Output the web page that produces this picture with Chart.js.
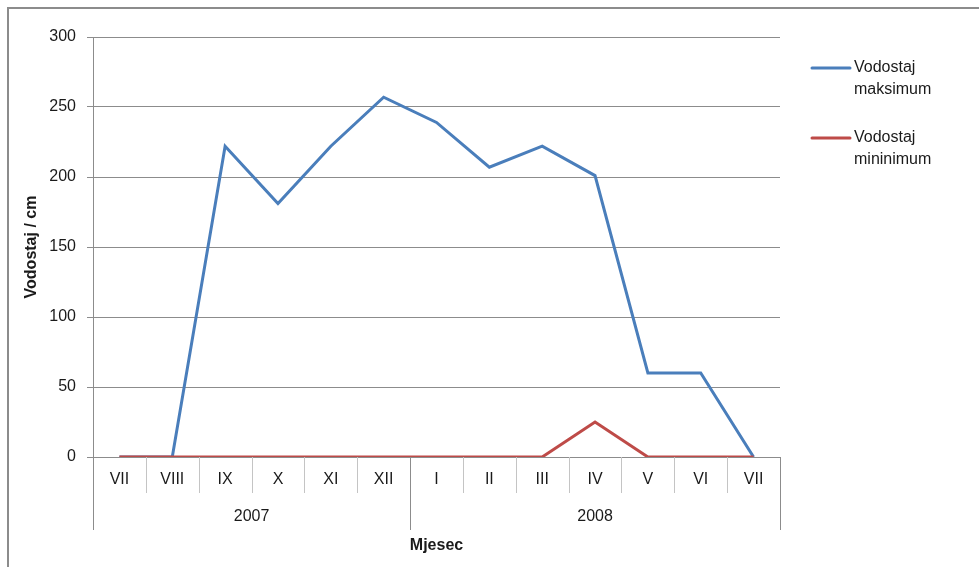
<!DOCTYPE html>
<html>
<head>
<meta charset="utf-8">
<script src="https://cdn.jsdelivr.net/npm/chart.js@4.4.1/dist/chart.umd.min.js"></script>
<style>
  html, body { margin: 0; padding: 0; background: #fff; }
  #wrap { width: 979px; height: 567px; position: relative; }
</style>
</head>
<body>
<div id="wrap"><canvas id="vodostajChart"></canvas></div>
<script>
const MONTHS = ["VII", "VIII", "IX", "X", "XI", "XII", "I", "II", "III", "IV", "V", "VI", "VII"];
const YEARS = ["2007", "2008"];
const YEAR_SPANS = [6, 7];
const MAX_LEVEL = [0, 0, 222, 181, 222, 257, 239, 207, 222, 201, 60, 60, 0];
const MIN_LEVEL = [0, 0, 0, 0, 0, 0, 0, 0, 0, 25, 0, 0, 0];
const Y_TICKS = [0, 50, 100, 150, 200, 250, 300];

const FONT = "'Liberation Sans', Arial, sans-serif";
const TEXT_COLOR = "#1a1a1a";

// draws the outer frame, the two level category axis and the legend
const excelBits = {
  id: "excelBits",
  beforeDraw(chart) {
    const ctx = chart.ctx;
    ctx.save();
    ctx.strokeStyle = "#8c8c8c";
    ctx.lineWidth = 2;
    ctx.strokeRect(8, 8, 1100, 700);
    ctx.restore();
  },
  afterDraw(chart) {
    const ctx = chart.ctx;
    const x = chart.scales.x;
    const area = chart.chartArea;
    const half = (x.getPixelForValue(1) - x.getPixelForValue(0)) / 2;

    ctx.save();
    // month separators
    ctx.strokeStyle = "#c4c4c4";
    ctx.lineWidth = 1;
    for (let i = 1; i < MONTHS.length; i++) {
      const px = Math.round(x.getPixelForValue(i) - half) + 0.5;
      ctx.beginPath();
      ctx.moveTo(px, area.bottom);
      ctx.lineTo(px, area.bottom + 36);
      ctx.stroke();
    }
    // year separators + year labels
    ctx.strokeStyle = "#8c8c8c";
    ctx.fillStyle = TEXT_COLOR;
    ctx.font = "16px " + FONT;
    ctx.textAlign = "center";
    ctx.textBaseline = "middle";
    let start = 0;
    const edges = [0];
    YEAR_SPANS.forEach((n, k) => {
      const left = x.getPixelForValue(start) - half;
      const right = x.getPixelForValue(start + n - 1) + half;
      ctx.fillText(YEARS[k], (left + right) / 2, area.bottom + 60);
      start += n;
      edges.push(start);
    });
    edges.forEach((i) => {
      const px = Math.round(x.getPixelForValue(i) - half) + 0.5;
      ctx.beginPath();
      ctx.moveTo(px, area.bottom);
      ctx.lineTo(px, area.bottom + 73);
      ctx.stroke();
    });

    // legend
    const lx = 812;
    const rows = [68, 138];
    chart.data.datasets.forEach((ds, i) => {
      const y = rows[i];
      ctx.strokeStyle = ds.borderColor;
      ctx.lineWidth = 3;
      ctx.lineCap = "round";
      ctx.beginPath();
      ctx.moveTo(lx, y);
      ctx.lineTo(lx + 38, y);
      ctx.stroke();
      ctx.fillStyle = TEXT_COLOR;
      ctx.textAlign = "left";
      ds.label.forEach((line, j) => {
        ctx.fillText(line, lx + 42, y + j * 22);
      });
    });
    ctx.restore();
  },
};

new Chart(document.getElementById("vodostajChart").getContext("2d"), {
  type: "line",
  data: {
    labels: MONTHS,
    datasets: [
      {
        label: ["Vodostaj", "maksimum"],
        data: MAX_LEVEL,
        borderColor: "#4a7ebb",
        borderWidth: 3,
        pointRadius: 0,
        tension: 0,
        order: 1,
      },
      {
        label: ["Vodostaj", "mininimum"],
        data: MIN_LEVEL,
        borderColor: "#be4b48",
        borderWidth: 3,
        pointRadius: 0,
        tension: 0,
        order: 0, // red sits on top of the blue line at 0
      },
    ],
  },
  options: {
    responsive: true,
    maintainAspectRatio: false,
    animation: false,
    layout: { padding: { left: 0, top: 37, right: 199, bottom: 0 } },
    plugins: {
      legend: { display: false },
      tooltip: { enabled: false },
    },
    scales: {
      x: {
        offset: true,
        grid: { display: false, drawTicks: false },
        border: { display: true, color: "#8c8c8c", width: 1 },
        ticks: {
          color: TEXT_COLOR,
          font: { family: FONT, size: 16 },
          padding: 13,
          maxRotation: 0,
          autoSkip: false,
        },
        title: {
          display: true,
          text: "Mjesec",
          color: TEXT_COLOR,
          font: { family: FONT, size: 16, weight: "bold" },
          padding: { top: 0, bottom: 12 },
        },
        afterFit(scale) {
          scale.height = 110;
        },
      },
      y: {
        min: 0,
        max: 300,
        afterBuildTicks(scale) {
          scale.ticks = Y_TICKS.map((v) => ({ value: v }));
        },
        grid: { color: "#8c8c8c", lineWidth: 1, tickLength: 6, drawTicks: true },
        border: { display: true, color: "#8c8c8c", width: 1 },
        ticks: {
          color: TEXT_COLOR,
          font: { family: FONT, size: 16 },
          padding: 11,
        },
        title: {
          display: true,
          text: "Vodostaj / cm",
          color: TEXT_COLOR,
          font: { family: FONT, size: 16, weight: "bold" },
          padding: { top: 22, bottom: 0 },
        },
        afterFit(scale) {
          scale.width = 93;
        },
      },
    },
  },
  plugins: [excelBits],
});
</script>
</body>
</html>
